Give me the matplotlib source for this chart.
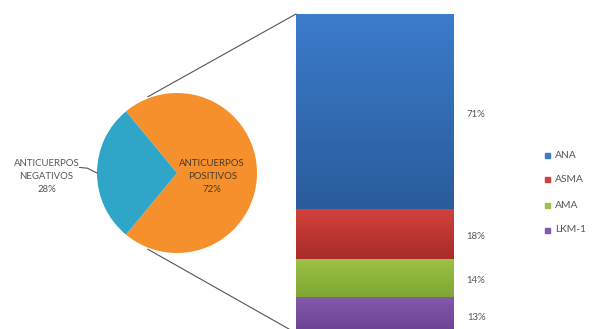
import numpy as np
import matplotlib
matplotlib.use("Agg")
import matplotlib.pyplot as plt
from matplotlib.patches import ConnectionPatch, Rectangle

plt.rcParams["font.family"] = ["Lato", "DejaVu Sans"]

# Pie data
pie_labels = ["ANTICUERPOS\nPOSITIVOS", "ANTICUERPOS\nNEGATIVOS"]
pie_values = [72, 28]
pie_colors = ["#F6902C", "#2FA6C8"]

# Breakdown of positive antibodies (stacked bar, bottom to top)
bar_labels = ["LKM-1", "AMA", "ASMA", "ANA"]
bar_values = [13, 14, 18, 71]
bar_top = ["#8359AA", "#9DC247", "#D2413B", "#3B7CCB"]
bar_bot = ["#6A4294", "#7FA633", "#A82C28", "#2A5C9C"]

W, H = 592, 329
fig = plt.figure(figsize=(W / 100, H / 100), dpi=100)
fig.patch.set_facecolor("white")

text_color = "#555555"
fs = 6.9

# ---- pie ----
cx, cy, r = 177, 173, 80
ax_pie = fig.add_axes([(cx - r) / W, (H - cy - r) / H, 2 * r / W, 2 * r / H])
start = -180 * pie_values[0] / 100
wedges, _ = ax_pie.pie(pie_values, colors=pie_colors, startangle=start,
                       counterclock=True, radius=1.0,
                       wedgeprops=dict(linewidth=0))
ax_pie.set_xlim(-1, 1)
ax_pie.set_ylim(-1, 1)
ax_pie.set_aspect("equal")
ax_pie.axis("off")

ax_pie.text(0.44, -0.04, f"{pie_labels[0]}\n{pie_values[0]}%", ha="center",
            va="center", fontsize=fs, color="#4a3a2a", linespacing=1.6)

# label outside for the negative slice, with leader line
ax_pie.text(-1.63, -0.04, f"{pie_labels[1]}\n{pie_values[1]}%", ha="center",
            va="center", fontsize=fs, color=text_color, linespacing=1.6)
ax_pie.plot([-1.22, -1.12, -1.0], [0.07, 0.06, 0.0], color="#555555",
            lw=0.8, solid_capstyle="round", clip_on=False)

# ---- stacked bar ----
bx0, bx1, by0, by1 = 296, 454, 14, 333
ax_bar = fig.add_axes([bx0 / W, (H - by1) / H, (bx1 - bx0) / W, (by1 - by0) / H])
total = sum(bar_values)
ax_bar.set_xlim(-0.5, 0.5)
ax_bar.set_ylim(0, total)
ax_bar.axis("off")

bottom = 0
for lab, v, ct, cb in zip(bar_labels, bar_values, bar_top, bar_bot):
    rects = ax_bar.bar(0, v, width=1.0, bottom=bottom, color=ct, linewidth=0,
                       label=lab)
    # vertical gradient inside each segment
    grad = np.linspace(0, 1, 64).reshape(-1, 1)
    c0 = np.array(matplotlib.colors.to_rgb(cb))
    c1 = np.array(matplotlib.colors.to_rgb(ct))
    img = c0[None, None, :] * (1 - grad[..., None]) + c1[None, None, :] * grad[..., None]
    im = ax_bar.imshow(img, extent=[-0.5, 0.5, bottom, bottom + v],
                       origin="lower", aspect="auto", zorder=2)
    im.set_clip_path(rects[0])
    ax_bar.text(0.64, bottom + v / 2 - 0.9, f"{v}%", ha="center", va="center",
                fontsize=fs, color=text_color)
    bottom += v

# ---- connector lines ----
for ang, ybar in [(111, total), (249, 0)]:
    a = np.deg2rad(ang)
    con = ConnectionPatch(xyA=(np.cos(a) * 1.02, np.sin(a) * 1.02), coordsA=ax_pie.transData,
                          xyB=(-0.5, ybar), coordsB=ax_bar.transData,
                          color="#555555", lw=0.8)
    fig.add_artist(con)

# ---- legend ----
for i, lab in enumerate(bar_labels[::-1]):
    col = bar_top[::-1][i]
    y = 155 + i * 25
    fig.patches.append(Rectangle((545 / W, 1 - (y + 2.5) / H), 5 / W, 5 / H,
                                 transform=fig.transFigure, color=col,
                                 figure=fig))
    fig.text(555 / W, 1 - y / H, lab, ha="left", va="center", fontsize=fs + 0.5,
             color=text_color)

fig.savefig("out.png", dpi=100, facecolor="white")
